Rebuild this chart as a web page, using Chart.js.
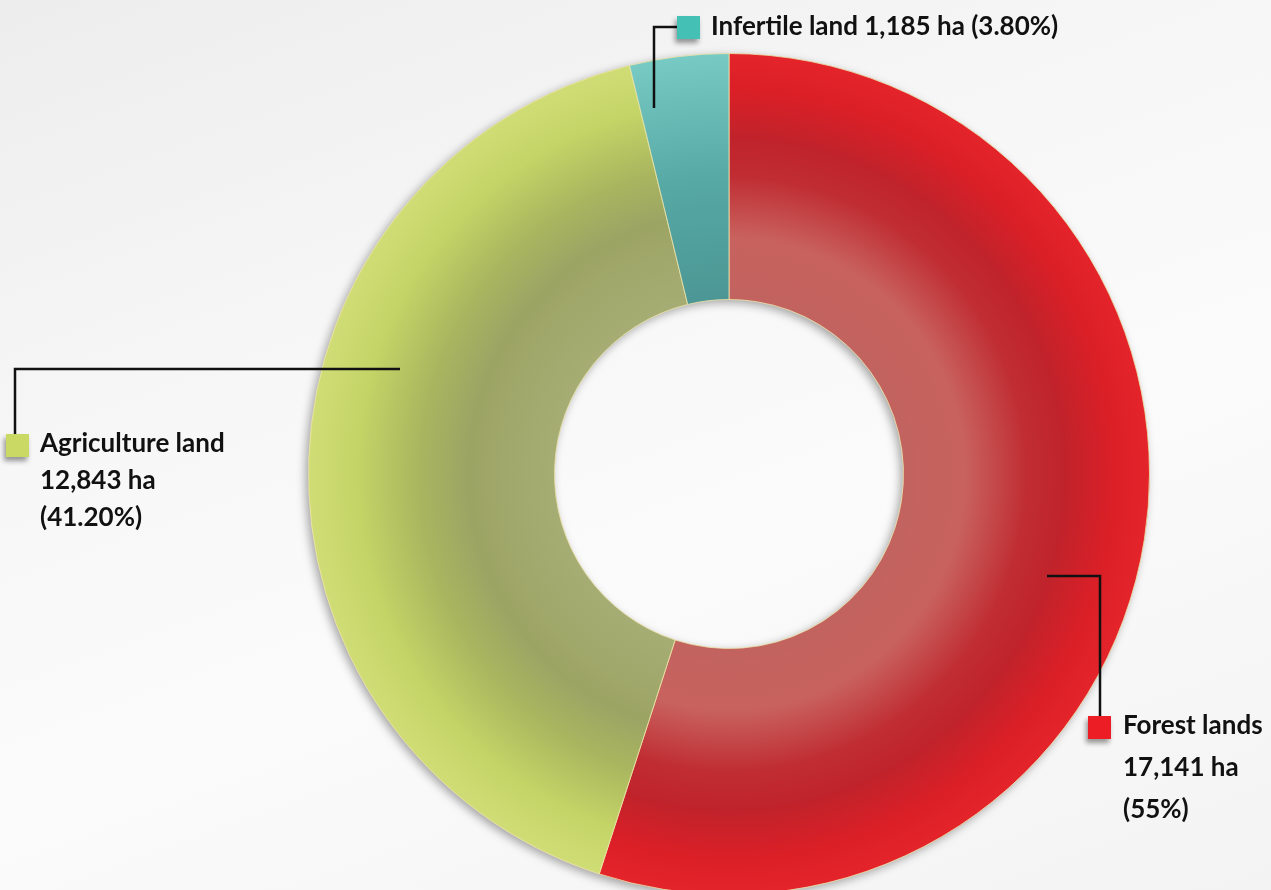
<!DOCTYPE html>
<html>
<head>
<meta charset="utf-8">
<script src="https://cdn.jsdelivr.net/npm/chart.js@4.4.0/dist/chart.umd.min.js"></script>
<style>
  html, body { margin: 0; padding: 0; overflow: hidden; }
  body {
    width: 1271px; height: 890px;
    background: linear-gradient(160deg, #ededed 0%, #f7f7f7 35%, #fbfbfb 60%, #f3f3f3 100%);
  }
  #wrap { position: absolute; left: 0; top: 0; width: 1271px; height: 1000px; }
</style>
</head>
<body>
<div id="wrap"><canvas id="land"></canvas></div>
<script>
// LAND USE DOUGHNUT
var categories = ["Forest lands", "Agriculture land", "Infertile land"];
var hectares = [17141, 12843, 1185];
var percents = ["55%", "41.20%", "3.80%"];
var swatch = ["#ec1d25", "#c9d964", "#45c0b5"];

// radial shading per slice, inner edge -> outer edge
var shades = [
  [[0, '#c26360'], [0.25, '#c8625e'], [0.5, '#c02d33'], [0.65, '#c0232b'], [0.85, '#db1f27'], [1, '#e4242a']],
  [[0, '#a6ad74'], [0.35, '#9ca464'], [0.55, '#a9b65f'], [0.8, '#c4d466'], [1, '#d0dd76']],
  [[0, '#4c9795'], [0.5, '#56a9a5'], [1, '#78cbc4']]
];

var CUT = 0.415;

function ringGradient(c) {
  var chart = c.chart, a = chart.chartArea;
  var stops = shades[c.dataIndex] || shades[0];
  if (!a) return stops[stops.length - 1][1];
  var cx = (a.left + a.right) / 2, cy = (a.top + a.bottom) / 2;
  var r = Math.min(a.width, a.height) / 2, ri = r * CUT;
  var g = chart.ctx.createRadialGradient(cx, cy, ri, cx, cy, r);
  stops.forEach(function (s) { g.addColorStop(s[0], s[1]); });
  return g;
}

// where the callout texts sit (label layout only)
var callouts = [
  { from: [1047, 576], path: [[1100, 576], [1100, 718]], box: [1088, 716], text: [1123, 734], lines: 3, gap: 42 },
  { from: [400, 369], path: [[15, 369], [15, 436]], box: [6, 434], text: [40, 452], lines: 3, gap: 37 },
  { from: [654, 108], path: [[654, 27], [678, 27]], box: [677, 16], text: [711, 35], lines: 1, gap: 0 }
];

var ringShadow = {
  id: 'ringShadow',
  beforeDatasetsDraw: function (chart) {
    var arc = chart.getDatasetMeta(0).data[0];
    if (!arc) return;
    var ctx = chart.ctx;
    ctx.save();
    ctx.shadowColor = 'rgba(0,0,0,0.35)';
    ctx.shadowBlur = 10;
    ctx.shadowOffsetX = -3;
    ctx.shadowOffsetY = 3;
    ctx.fillStyle = '#b0b0b0';
    ctx.beginPath();
    ctx.arc(arc.x, arc.y, arc.outerRadius, 0, Math.PI * 2);
    ctx.arc(arc.x, arc.y, arc.innerRadius, 0, Math.PI * 2, true);
    ctx.fill();
    ctx.restore();
  }
};

var callout = {
  id: 'callout',
  afterDraw: function (chart) {
    var ctx = chart.ctx;
    callouts.forEach(function (c, i) {
      ctx.save();
      ctx.strokeStyle = '#111';
      ctx.lineWidth = 2.5;
      ctx.beginPath();
      ctx.moveTo(c.from[0], c.from[1]);
      c.path.forEach(function (p) { ctx.lineTo(p[0], p[1]); });
      ctx.stroke();

      ctx.shadowColor = 'rgba(0,0,0,0.4)';
      ctx.shadowBlur = 5;
      ctx.shadowOffsetX = -2;
      ctx.shadowOffsetY = 4;
      ctx.fillStyle = swatch[i];
      ctx.fillRect(c.box[0], c.box[1], 23, 23);
      ctx.restore();

      ctx.save();
      ctx.fillStyle = '#111';
      ctx.font = 'bold 26px Lato';
      ctx.textBaseline = 'alphabetic';
      var amount = hectares[i].toLocaleString('en-US') + ' ha';
      var rows = c.lines === 1
        ? [categories[i] + ' ' + amount + ' (' + percents[i] + ')']
        : [categories[i], amount, '(' + percents[i] + ')'];
      rows.forEach(function (t, k) {
        ctx.fillText(t, c.text[0], c.text[1] + k * c.gap);
      });
      ctx.restore();
    });
  }
};

var ctx = document.getElementById('land').getContext('2d');
var chart = new Chart(ctx, {
  type: 'doughnut',
  data: {
    labels: categories,
    datasets: [{
      data: hectares,
      backgroundColor: ringGradient,
      borderColor: 'rgba(240,230,170,0.8)',
      borderWidth: 1
    }]
  },
  options: {
    responsive: true,
    maintainAspectRatio: false,
    animation: false,
    cutout: (CUT * 100) + '%',
    layout: { padding: { left: 308, right: 121, top: 53, bottom: 105 } },
    plugins: {
      legend: { display: false },
      tooltip: { enabled: false }
    }
  },
  plugins: [ringShadow, callout]
});
</script>
</body>
</html>
